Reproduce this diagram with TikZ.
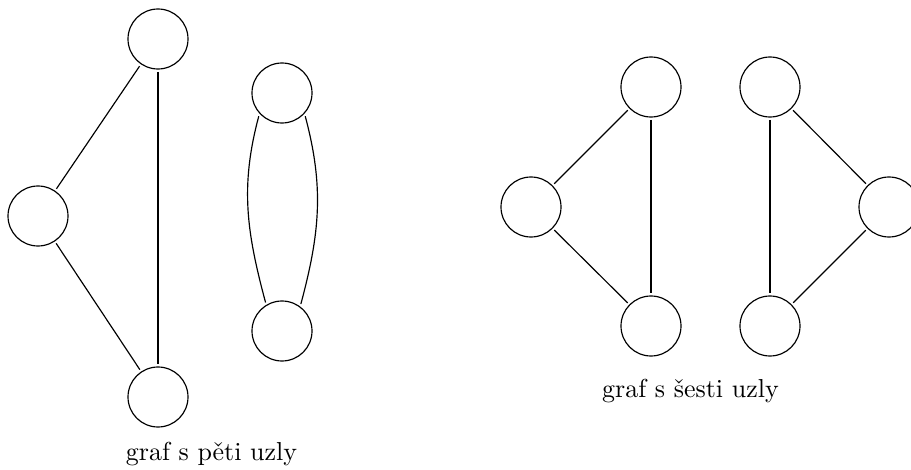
\documentclass[tikz,border=0pt]{standalone}
\usepackage{fontspec}
\begin{document}
\begin{tikzpicture}[x=0.385pt,y=-0.385pt,
  vtx/.style={draw,circle,minimum size=23.1pt,inner sep=0pt,outer sep=1.1pt,line width=0.45pt},
  edge/.style={line width=0.45pt},
  lbl/.style={anchor=base,inner sep=0pt}]
\useasboundingbox (0,0) rectangle (911,470);
% graf s peti uzly
\node[vtx] (a1) at (158,39) {};
\node[vtx] (a2) at (38,216) {};
\node[vtx] (a3) at (158,397) {};
\node[vtx] (a4) at (282,93) {};
\node[vtx] (a5) at (282,331) {};
\draw[edge] (a1) -- (a2);
\draw[edge] (a1) -- (a3);
\draw[edge] (a2) -- (a3);
\draw[edge] (a4.225) to[out=-105,in=105] (a5.120);
\draw[edge] (a4.-45) to[out=-75,in=75] (a5.55);
\node[lbl] (t1) at (211.5,460) {graf s pěti uzly};
% graf s sesti uzly
\node[vtx] (b1) at (651,87) {};
\node[vtx] (b2) at (531,207) {};
\node[vtx] (b3) at (651,326) {};
\node[vtx] (b4) at (770,87) {};
\node[vtx] (b5) at (889,207) {};
\node[vtx] (b6) at (770,326) {};
\draw[edge] (b1) -- (b2);
\draw[edge] (b1) -- (b3);
\draw[edge] (b2) -- (b3);
\draw[edge] (b4) -- (b5);
\draw[edge] (b4) -- (b6);
\draw[edge] (b5) -- (b6);
\node[lbl] (t2) at (690.5,397) {graf s šesti uzly};
\end{tikzpicture}
\end{document}
